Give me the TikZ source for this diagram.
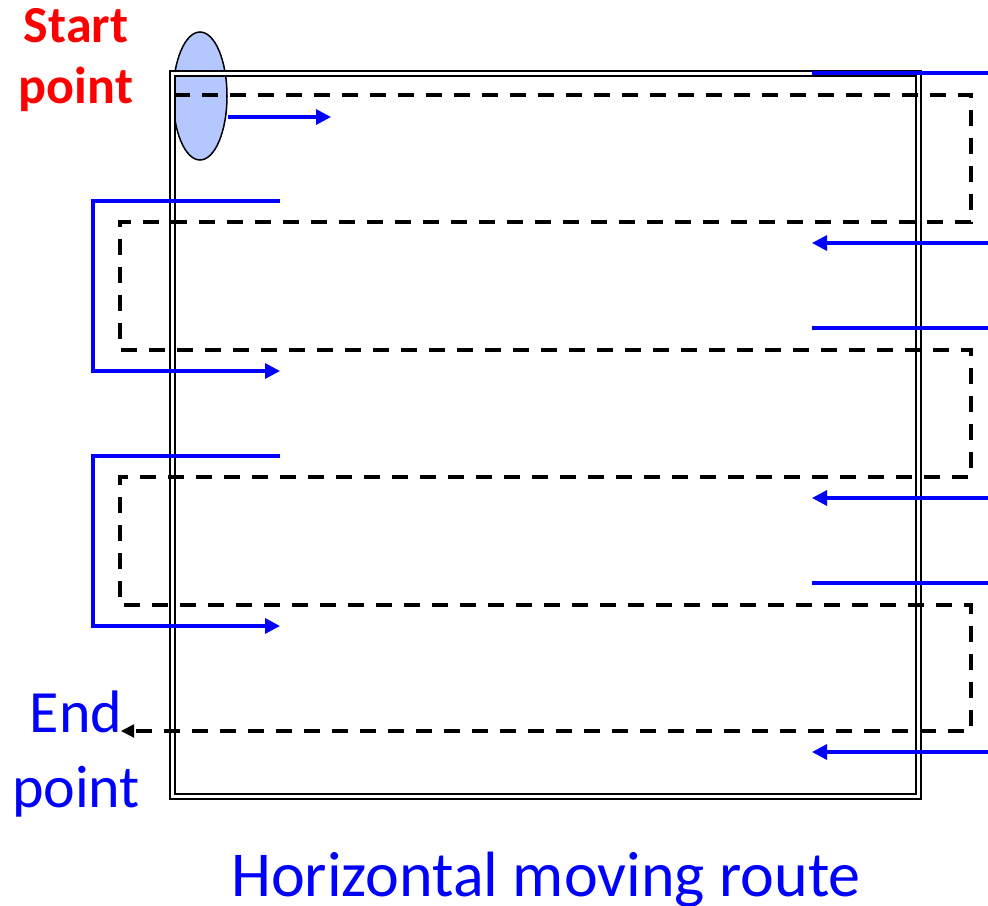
\documentclass[tikz,border=0pt]{standalone}
\usepackage{fontspec}
\setmainfont{Carlito}
\usetikzlibrary{arrows.meta,shapes.geometric}
\definecolor{lblue}{RGB}{180,199,255}
\tikzset{
  route/.style={line width=3.5pt, dash pattern=on 16pt off 12pt},
  guide/.style={draw=blue, line width=3.2pt},
  guidearrow/.style={guide, -{Triangle[length=15pt,width=15pt]}},
  frame/.style={draw=black, line width=2pt, double=white, double distance=3pt},
  lbl/.style={anchor=base, inner sep=0pt},
}
\begin{document}
\begin{tikzpicture}[x=1pt,y=-1pt]
\useasboundingbox (0,0) rectangle (988,905);
% start marker
\node[ellipse, draw, line width=1.5pt, fill=lblue, minimum width=54pt, minimum height=128pt, inner sep=0pt] (sp) at (200,96) {};
% frame
\coordinate (f1) at (172.5,73.5);
\coordinate (f2) at (918.5,796.5);
\draw[frame] (f1) rectangle (f2);
% dashed route
\coordinate (d0) at (174,95);
\coordinate (d1) at (971,95);
\coordinate (d2) at (971,222);
\coordinate (d3) at (120,222);
\coordinate (d4) at (120,350);
\coordinate (d5) at (971,350);
\coordinate (d6) at (971,477);
\coordinate (d7) at (120,477);
\coordinate (d8) at (120,605);
\coordinate (d9) at (971,605);
\coordinate (d10) at (971,731);
\coordinate (d11) at (121,731);
\coordinate (d12) at (131,731);
\draw[route] (d0) -- (d1) -- (d2) -- (d3) -- (d4) -- (d5) -- (d6) -- (d7) -- (d8) -- (d9) -- (d10) -- (d12);
\draw[line width=2pt, -{Triangle[length=13pt,width=13pt]}] (d12) -- (d11);
% blue guides
\coordinate (a0) at (228,117);
\coordinate (a1) at (331,117);
\draw[guidearrow] (a0) -- (a1);
\coordinate (r1a) at (988,73); \coordinate (r1b) at (812,73);
\draw[guide] (r1a) -- (r1b);
\coordinate (r2a) at (988,243); \coordinate (r2b) at (812,243);
\draw[guidearrow] (r2a) -- (r2b);
\coordinate (r3a) at (988,328); \coordinate (r3b) at (812,328);
\draw[guide] (r3a) -- (r3b);
\coordinate (r4a) at (988,498); \coordinate (r4b) at (812,498);
\draw[guidearrow] (r4a) -- (r4b);
\coordinate (r5a) at (988,583); \coordinate (r5b) at (812,583);
\draw[guide] (r5a) -- (r5b);
\coordinate (r6a) at (988,752); \coordinate (r6b) at (812,752);
\draw[guidearrow] (r6a) -- (r6b);
\coordinate (l1a) at (280,201); \coordinate (l1b) at (93,201);
\coordinate (l1c) at (93,371); \coordinate (l1d) at (280,371);
\draw[guidearrow] (l1a) -- (l1b) -- (l1c) -- (l1d);
\coordinate (l2a) at (280,456); \coordinate (l2b) at (93,456);
\coordinate (l2c) at (93,626); \coordinate (l2d) at (280,626);
\draw[guidearrow] (l2a) -- (l2b) -- (l2c) -- (l2d);
% texts
\node[lbl, text=red, font=\bfseries\fontsize{52}{61}\selectfont] (st1) at (76,42) {Start};
\node[lbl, text=red, font=\bfseries\fontsize{52}{61}\selectfont] (st2) at (76,103) {point};
\node[lbl, text=blue, font=\fontsize{60}{75}\selectfont] (en1) at (76,732) {End};
\node[lbl, text=blue, font=\fontsize{60}{75}\selectfont] (en2) at (76,807) {point};
\node[lbl, text=blue, font=\fontsize{64}{70}\selectfont] (ti) at (546,896) {Horizontal moving route};
\end{tikzpicture}
\end{document}
